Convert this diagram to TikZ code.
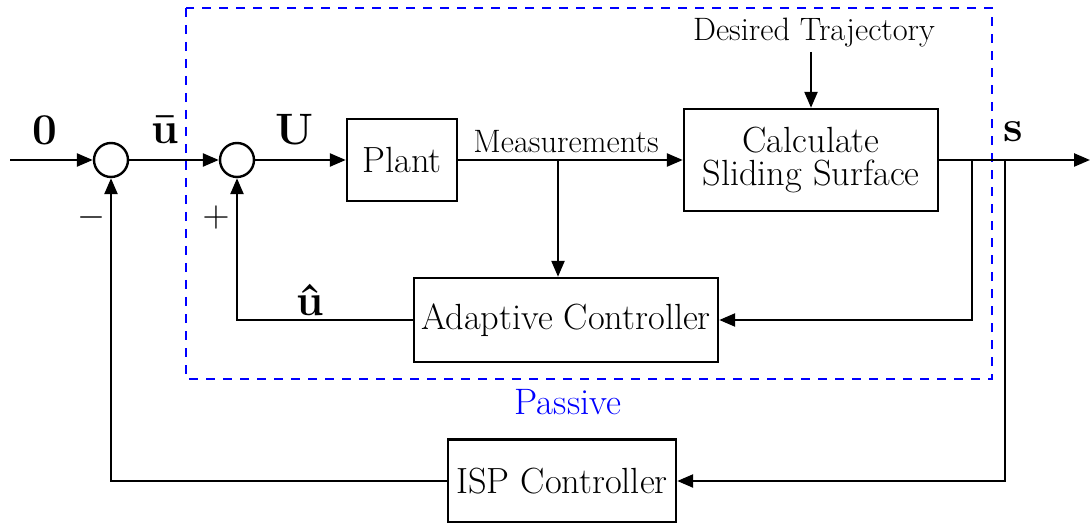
\documentclass[tikz,border=0pt]{standalone}
\usetikzlibrary{arrows.meta}
\begin{document}
\begin{tikzpicture}[x=0.5pt,y=-0.5pt,
  blk/.style={draw, line width=1.2pt, inner sep=0pt, align=center,
    font=\fontsize{18.2}{16.5}\selectfont},
  sumnode/.style={draw, circle, line width=1.2pt, minimum size=17pt, inner sep=0pt},
  wire/.style={line width=1.2pt},
  arr/.style={wire, -{Triangle[length=8pt,width=6.5pt]}},
  sig/.style={font=\fontsize{22}{24}\selectfont\bfseries},
  lbl/.style={font=\fontsize{16.2}{18}\selectfont},
  sgn/.style={font=\fontsize{14.4}{16}\selectfont},
  region/.style={draw=blue, line width=0.8pt, dash pattern=on 4.5pt off 4pt}]
\useasboundingbox (0,0) rectangle (1090,523);

% passive subsystem frame
\draw[region] (186,8) rectangle (992,379);
\node[font=\fontsize{18.4}{20}\selectfont, text=blue] (passive) at (568,402) {Passive};

% summing junctions and blocks
\node[sumnode] (s1) at (111,160) {};
\node[sumnode] (s2) at (237,160) {};
\node[blk, minimum width=55pt, minimum height=41pt] (plant) at (402,160) {Plant};
\node[blk, minimum width=127pt, minimum height=51pt] (calc) at (811,160) {Calculate\\Sliding Surface};
\node[blk, minimum width=152pt, minimum height=42pt] (adapt) at (566,320) {Adaptive Controller};
\node[blk, minimum width=114pt, minimum height=41.5pt] (isp) at (562,481) {ISP Controller};

% text labels
\node[lbl] (dt) at (814,33) {Desired Trajectory};
\node[lbl] (meas) at (566,142) {Measurements};
\node[sig] (l0) at (45,130) {0};
\node[sig] (lub) at (165,130) {\=u};
\node[sig] (lU) at (295,130) {U};
\node[sig] (ls) at (1013,132) {s};
\node[sig] (luh) at (310,300) {\^u};
\node[sgn] (minus) at (91,218) {\scalebox{1.25}{$-$}};
\node[sgn] (plus) at (216,218) {\scalebox{1.25}{$+$}};

% free ends and branch points
\coordinate (in) at (10,160);
\coordinate (out) at (1090,160);
\coordinate (b1) at (558,160);
\coordinate (b2) at (972,160);
\coordinate (b3) at (1005,160);
\coordinate (dtop) at (811,52);

% forward path
\draw[arr] (in) -- (s1);
\draw[arr] (s1) -- (s2);
\draw[arr] (s2) -- (plant);
\draw[arr] (plant) -- (calc);
\draw[arr] (calc) -- (out);
\draw[arr] (dtop) -- (calc.north);

% adaptive loop
\draw[arr] (b1) -- (b1 |- adapt.north);
\draw[arr] (b2) |- (adapt.east);
\draw[arr] (adapt.west) -| (s2.south);

% ISP loop
\draw[arr] (b3) |- (isp.east);
\draw[arr] (isp.west) -| (s1.south);
\end{tikzpicture}
\end{document}
